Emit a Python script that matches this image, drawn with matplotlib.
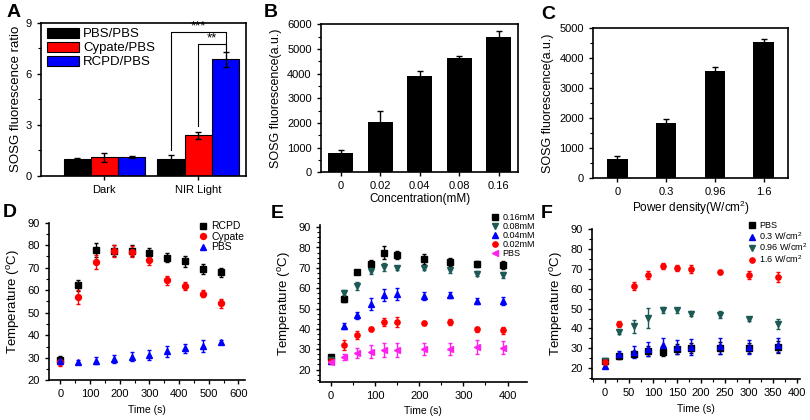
import numpy as np
import matplotlib
matplotlib.use('Agg')
import matplotlib.pyplot as plt
from matplotlib.ticker import MultipleLocator

plt.rcParams['font.family'] = ['Liberation Sans', 'DejaVu Sans']
plt.rcParams['font.size'] = 8
plt.rcParams['axes.linewidth'] = 1.2
plt.rcParams['mathtext.default'] = 'regular'

# ---- panel A data ----
groups_a = ['Dark', 'NIR Light']
series_a = ['PBS/PBS', 'Cypate/PBS', 'RCPD/PBS']
vals_a = [[1.0, 1.0], [1.1, 2.4], [1.1, 6.85]]
errs_a = [[0.03, 0.22], [0.25, 0.2], [0.07, 0.45]]
colors_a = ['black', '#ff0000', '#0000ff']

# ---- panel B data ----
conc_b = ['0', '0.02', '0.04', '0.08', '0.16']
vals_b = [770, 2030, 3890, 4640, 5490]
errs_b = [150, 450, 200, 90, 250]

# ---- panel C data ----
power_c = ['0', '0.3', '0.96', '1.6']
vals_c = [630, 1850, 3570, 4530]
errs_c = [110, 110, 120, 110]

# ---- panel D data ----
t_d = [0, 60, 120, 180, 240, 300, 360, 420, 480, 540]
rcpd_d = [29.2, 62.2, 77.8, 77.6, 77.6, 76.7, 74.5, 72.8, 69.6, 67.9]
rcpd_d_err = [1.5, 2.5, 3.0, 2.5, 2.5, 2.0, 2.2, 2.5, 2.2, 2.0]
cyp_d = [28.0, 57.0, 72.4, 77.4, 77.1, 73.6, 64.4, 61.8, 58.5, 54.1]
cyp_d_err = [1.5, 3.0, 3.0, 2.8, 2.5, 2.5, 2.0, 1.8, 1.5, 2.2]
pbs_d = [28.5, 28.1, 28.7, 29.3, 30.4, 31.2, 32.8, 34.3, 35.2, 37.0]
pbs_d_err = [1.0, 1.0, 1.5, 1.8, 2.0, 2.2, 2.5, 2.0, 2.5, 0.8]

# ---- panel E data ----
t_e = [0, 30, 60, 90, 120, 150, 210, 270, 330, 390]
e16 = [26.2, 54.8, 67.9, 71.7, 77.5, 76.4, 74.3, 72.7, 72.0, 71.2]
e16_err = [1.2, 1.5, 1.0, 2.3, 3.0, 2.0, 2.3, 2.0, 1.5, 2.0]
e08 = [24.5, 57.8, 61.2, 68.6, 70.4, 69.9, 69.9, 68.8, 67.1, 66.6]
e08_err = [1.0, 1.2, 2.0, 1.5, 1.8, 1.0, 1.0, 1.2, 1.3, 1.5]
e04 = [24.0, 41.4, 46.7, 52.2, 56.6, 57.1, 56.1, 56.7, 53.9, 53.5]
e04_err = [1.0, 1.5, 1.8, 2.8, 2.8, 2.8, 1.8, 1.5, 1.5, 2.0]
e02 = [24.0, 32.0, 36.8, 40.0, 43.2, 43.3, 43.0, 43.3, 39.8, 39.3]
e02_err = [1.0, 2.5, 2.0, 1.0, 2.0, 2.5, 1.0, 1.5, 1.2, 1.8]
e_pbs = [23.8, 26.2, 28.0, 28.8, 29.5, 29.6, 30.0, 30.3, 31.1, 30.8]
e_pbs_err = [1.0, 1.5, 2.5, 3.2, 3.5, 3.5, 3.0, 3.0, 3.5, 3.0]

# ---- panel F data ----
t_f = [0, 30, 60, 90, 120, 150, 180, 240, 300, 360]
f_pbs = [23.5, 26.0, 27.3, 28.5, 28.2, 29.5, 30.0, 30.3, 30.0, 30.8]
f_pbs_err = [1.0, 1.5, 1.5, 2.5, 2.0, 2.5, 2.5, 3.0, 2.5, 3.0]
f03 = [21.3, 27.0, 28.0, 29.7, 31.5, 30.7, 30.9, 31.2, 30.9, 31.8]
f03_err = [1.0, 1.5, 3.0, 3.5, 3.5, 3.5, 4.0, 4.0, 3.5, 3.5]
f096 = [23.5, 38.0, 41.0, 45.2, 49.5, 49.2, 47.5, 47.0, 44.8, 42.3]
f096_err = [1.0, 1.0, 3.5, 5.0, 1.5, 1.2, 1.2, 1.8, 1.2, 2.5]
f16 = [23.0, 42.2, 61.3, 66.7, 71.3, 70.3, 69.7, 68.1, 67.0, 65.7]
f16_err = [1.0, 1.5, 2.0, 2.0, 1.5, 1.5, 2.0, 1.0, 2.0, 2.5]

teal = '#1e5a55'
magenta = '#ff22ee'

fig = plt.figure(figsize=(8.1, 4.2), dpi=100)

axA = fig.add_axes([0.050, 0.581, 0.254, 0.365])
axB = fig.add_axes([0.396, 0.590, 0.244, 0.352])
axC = fig.add_axes([0.732, 0.576, 0.241, 0.357])
axD = fig.add_axes([0.0605, 0.0945, 0.242, 0.3755])
axE = fig.add_axes([0.395, 0.091, 0.255, 0.373])
axF = fig.add_axes([0.731, 0.0976, 0.257, 0.358])

# ---------- A ----------
w = 0.29
xg = np.arange(len(groups_a))
for i in range(3):
    axA.bar(xg + (i - 1) * w, vals_a[i], w, color=colors_a[i], edgecolor='black',
            linewidth=0.8, yerr=errs_a[i], capsize=2, error_kw={'elinewidth': 1, 'capthick': 1},
            label=series_a[i])
axA.set_xlim(-0.68, 1.51)
axA.set_ylim(0, 9)
axA.set_yticks([0, 3, 6, 9])
axA.yaxis.set_minor_locator(MultipleLocator(1.5))
axA.set_xticks(xg)
axA.set_xticklabels(groups_a)
axA.set_ylabel('SOSG fluorescence ratio', fontsize=9.5, labelpad=2)
axA.legend(loc='upper left', bbox_to_anchor=(0.02, 0.985), frameon=False, fontsize=9.5,
           handlelength=2.4, handleheight=0.8, labelspacing=0.1, handletextpad=0.3,
           borderaxespad=0, borderpad=0.2)
# significance brackets
xb, xr, xbl = 1 - w, 1.0, 1 + w
axA.plot([xb, xb, xbl, xbl], [1.55, 8.45, 8.45, 7.45], color='black', lw=0.8)
axA.plot([xr, xr, xbl, xbl], [2.95, 7.75, 7.75, 7.35], color='black', lw=0.8)
axA.text((xb + xbl) / 2, 8.45, '***', ha='center', va='bottom', fontsize=9.5)
axA.text((xr + xbl) / 2, 7.75, '**', ha='center', va='bottom', fontsize=9.5)

# ---------- B ----------
xb_ = np.arange(len(conc_b))
axB.bar(xb_, vals_b, 0.63, color='black', yerr=errs_b, capsize=2.5,
        error_kw={'elinewidth': 1, 'capthick': 1})
axB.set_xlim(-0.5, 4.5)
axB.set_ylim(0, 6000)
axB.set_yticks(range(0, 6001, 1000))
axB.yaxis.set_minor_locator(MultipleLocator(500))
axB.set_xticks(xb_)
axB.set_xticklabels(conc_b)
axB.set_ylabel('SOSG fluorescence(a.u.)', fontsize=9)
axB.set_xlabel('Concentration(mM)', labelpad=1, fontsize=8.5)

# ---------- C ----------
xc = np.arange(len(power_c))
axC.bar(xc, vals_c, 0.42, color='black', yerr=errs_c, capsize=2.5,
        error_kw={'elinewidth': 1, 'capthick': 1})
axC.set_xlim(-0.5, 3.5)
axC.set_ylim(0, 5000)
axC.set_yticks(range(0, 5001, 1000))
axC.yaxis.set_minor_locator(MultipleLocator(500))
axC.set_xticks(xc)
axC.set_xticklabels(power_c)
axC.set_ylabel('SOSG fluorescence(a.u.)', fontsize=9)
axC.set_xlabel('Power density(W/cm$^2$)', labelpad=1, fontsize=8.5)


def pts(ax, x, y, e, m, c, ms=4):
    eb = ax.errorbar(x, y, yerr=e, fmt=m, color=c, ms=ms, capsize=1.5,
                     elinewidth=1, capthick=1)
    return eb[0]


def marker_legend(ax, handles, labels, anchor, fs, ls):
    ax.legend(handles, labels, loc='upper left', bbox_to_anchor=anchor, frameon=False,
              fontsize=fs, handlelength=0.9, handletextpad=0.35, labelspacing=ls,
              borderaxespad=0)


# ---------- D ----------
hd = [pts(axD, t_d, rcpd_d, rcpd_d_err, 's', 'black', 4.3),
      pts(axD, t_d, cyp_d, cyp_d_err, 'o', '#ff0000', 4.3),
      pts(axD, t_d, pbs_d, pbs_d_err, '^', '#0000ff', 4.3)]
axD.set_xlim(-38, 622)
axD.set_ylim(20, 90)
axD.xaxis.set_major_locator(MultipleLocator(100))
axD.xaxis.set_minor_locator(MultipleLocator(50))
axD.yaxis.set_minor_locator(MultipleLocator(5))
marker_legend(axD, hd, ['RCPD', 'Cypate', 'PBS'], (0.74, 1.035), 7.5, 0.05)

# ---------- E ----------
he = [pts(axE, t_e, e16, e16_err, 's', 'black', 3.8),
      pts(axE, t_e, e08, e08_err, 'v', teal, 3.8),
      pts(axE, t_e, e04, e04_err, '^', '#0000ff', 3.8),
      pts(axE, t_e, e02, e02_err, 'o', '#ff0000', 3.8),
      pts(axE, t_e, e_pbs, e_pbs_err, '<', magenta, 3.8)]
axE.set_xlim(-25, 443)
axE.set_ylim(14, 91)
axE.set_yticks(range(20, 91, 10))
axE.xaxis.set_major_locator(MultipleLocator(100))
axE.xaxis.set_minor_locator(MultipleLocator(50))
axE.yaxis.set_minor_locator(MultipleLocator(2.5))
marker_legend(axE, he, ['0.16mM', '0.08mM', '0.04mM', '0.02mM', 'PBS'], (0.81, 1.10), 6.5, 0.0)

# ---------- F ----------
hf = [pts(axF, t_f, f_pbs, f_pbs_err, 's', 'black', 3.8),
      pts(axF, t_f, f03, f03_err, '^', '#0000ee', 3.8),
      pts(axF, t_f, f096, f096_err, 'v', teal, 3.8),
      pts(axF, t_f, f16, f16_err, 'o', '#ff0000', 3.8)]
axF.set_xlim(-27, 407)
axF.set_ylim(14.7, 90)
axF.set_yticks(range(20, 91, 10))
axF.xaxis.set_major_locator(MultipleLocator(50))
axF.xaxis.set_minor_locator(MultipleLocator(25))
axF.yaxis.set_minor_locator(MultipleLocator(5))
marker_legend(axF, hf, ['PBS', '0.3 W/cm$^2$', '0.96 W/cm$^2$', '1.6 W/cm$^2$'],
              (0.73, 1.075), 6.5, 0.0)

for ax in (axD, axE, axF):
    ax.spines['top'].set_visible(False)
    ax.spines['right'].set_visible(False)
    ax.set_xlabel('Time (s)', fontsize=7.5)
    ax.set_ylabel('Temperature ($^o$C)', fontsize=9.5)

for ax in (axA, axB, axC, axD, axE, axF):
    ax.tick_params(which='major', direction='out', length=3, width=1, labelsize=8)
    ax.tick_params(which='minor', direction='out', length=2, width=0.8)

# panel letters
for lab, x, y in [('A', 0.008, 0.99), ('B', 0.326, 0.99), ('C', 0.668, 0.985),
                  ('D', 0.004, 0.515), ('E', 0.334, 0.512), ('F', 0.668, 0.512)]:
    fig.text(x, y, lab, fontsize=14, fontweight='bold', va='top', ha='left')

fig.savefig('out.png', dpi=100)
